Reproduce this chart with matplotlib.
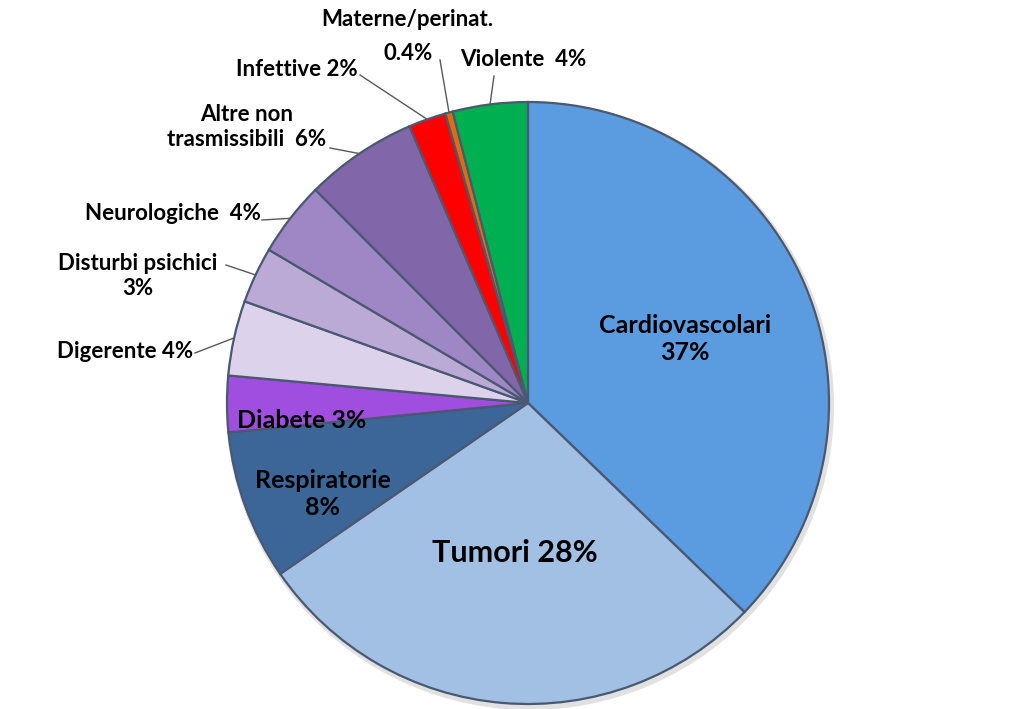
import numpy as np
import matplotlib.pyplot as plt

# cause-of-death shares (%), clockwise from 12 o'clock
causes = ["Cardiovascolari", "Tumori", "Respiratorie", "Diabete", "Digerente",
          "Disturbi psichici", "Neurologiche", "Altre non trasmissibili",
          "Infettive", "Materne/perinat.", "Violente"]
shares = [37, 28, 8, 3, 4, 3, 4, 6, 2, 0.4, 4]
labels = ["Cardiovascolari\n37%", "Tumori 28%", "Respiratorie\n8%", "Diabete 3%",
          "Digerente 4%", "Disturbi psichici\n3%", "Neurologiche  4%",
          "Altre non\ntrasmissibili  6%", "Infettive 2%", "Materne/perinat.\n0.4%",
          "Violente  4%"]
colors = ["#5b9be0", "#a2bfe4", "#3d6698", "#a04ee0", "#dcd2ec", "#bba9d6",
          "#9f87c6", "#8266aa", "#ff0000", "#e36c0a", "#00b050"]

W, H = 1023, 709
cx, cy, R = 528, H - 403, 301

# label placement (pixels, y from top); inside labels have no leader
label_pos = [(685, 339, "center"), (515, 553, "center"), (323, 494, "center"),
             (302, 421, "center"), (193, 352, "right"), (138, 276, "center"),
             (261, 213, "right"), (247, 127, "center"), (358, 70, "right"),
             (407, 37, "center"), (523, 60, "center")]
inside = [True, True, True, True] + [False] * 7
leader_end = [None, None, None, None, (195, 353), (226, 265), (262, 220),
              (330, 148), (360, 75), (440, 60), (494, 76)]

plt.rcParams['font.family'] = ['Lato', 'DejaVu Sans']

fig = plt.figure(figsize=(W / 100, H / 100), dpi=100)
ax = fig.add_axes([0, 0, 1, 1])

# soft shadow under the pie
sh, _ = ax.pie(shares, startangle=90, counterclock=False, radius=R + 3,
               center=(cx + 2, cy - 3), colors=["#c4c4c4"] * len(shares),
               wedgeprops=dict(linewidth=0), frame=True)
for w in sh:
    w.set_alpha(0.5)

wedges, _ = ax.pie(shares, startangle=90, counterclock=False, radius=R,
                   center=(cx, cy), colors=colors, frame=True,
                   wedgeprops=dict(edgecolor="#4a5870", linewidth=1.6))
ax.set_xlim(0, W)
ax.set_ylim(0, H)
ax.axis("off")

for i, w in enumerate(wedges):
    x, y, ha = label_pos[i]
    size = 22 if i == 1 else (18 if inside[i] else 16)
    if causes[i] == "Materne/perinat.":
        # two separate lines so the narrow "0.4%" sits beside "Violente"
        top, bottom = labels[i].split("\n")
        ax.text(x, H - y + 17, top, ha="center", va="center", fontsize=size,
                fontweight="bold", color="black")
        ax.text(x + 1, H - y - 16, bottom, ha="center", va="center",
                fontsize=size, fontweight="bold", color="black")
    else:
        ax.text(x, H - y, labels[i], ha=ha, va="center", fontsize=size,
                fontweight="bold", color="black", linespacing=1.2)
    if leader_end[i] is not None:
        mid = np.deg2rad((w.theta1 + w.theta2) / 2)
        px, py = cx + R * np.cos(mid), cy + R * np.sin(mid)
        lx, ly = leader_end[i]
        ax.plot([lx, px], [H - ly, py], color="#595959", linewidth=1)

fig.savefig("out.png", dpi=100)
